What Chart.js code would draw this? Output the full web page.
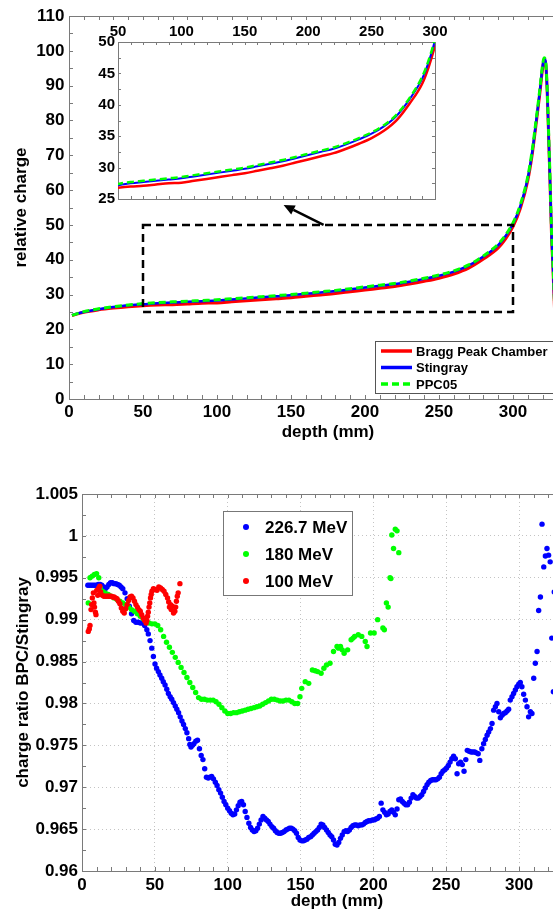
<!DOCTYPE html>
<html>
<head>
<meta charset="utf-8">
<script src="https://cdn.jsdelivr.net/npm/chart.js@4.4.1/dist/chart.umd.min.js"></script>
<style>
  html, body { margin: 0; padding: 0; background: #fff; overflow: hidden; width: 553px; height: 911px; position: relative; }
  canvas { position: absolute; }
  #top { left: 0; top: 0; width: 640px; height: 445px; }
  #inset { left: 80px; top: 10px; width: 370px; height: 200px; }
  #bottom { left: 0; top: 455px; width: 640px; height: 456px; }
</style>
</head>
<body>
<canvas id="top" width="640" height="445"></canvas>
<canvas id="inset" width="370" height="200"></canvas>
<canvas id="bottom" width="640" height="456"></canvas>
<script>
// ---- top panel: depth curves (mm / relative charge)
const depthTop = [2, 10, 20, 30, 40, 50, 60, 70, 80, 90,
  100, 110, 120, 130, 140, 150, 160, 170, 180, 190, 200,
  210, 220, 230, 240, 250, 260, 270, 280, 290,
  295, 300, 305, 310, 313, 316, 318, 320, 321, 322, 323, 324, 325, 326, 327, 328, 330, 333, 336, 340];
const bpcCharge = [24.0, 24.9, 25.6, 26.1, 26.5, 26.8, 27.0, 27.1, 27.3, 27.5,
  27.6, 27.9, 28.2, 28.5, 28.8, 29.1, 29.5, 29.9, 30.3, 30.8, 31.3,
  31.8, 32.3, 33.0, 33.8, 34.7, 35.9, 37.6, 40.2, 43.4,
  46.0, 49.5, 54.8, 62.8, 70.3, 80.3, 87.3, 95.0, 97.5, 96.5, 89.5, 76.5, 62.5, 47.5, 37.5, 26.5, 9.8, 1.9, 0.6, 0.2];
const stingrayCharge = [24.1, 25.0, 25.8, 26.4, 26.9, 27.2, 27.5, 27.7, 27.9, 28.1,
  28.3, 28.6, 28.9, 29.2, 29.5, 29.8, 30.2, 30.6, 31.0, 31.5, 32.0,
  32.5, 33.0, 33.7, 34.5, 35.4, 36.6, 38.3, 40.9, 44.2,
  46.8, 50.3, 55.5, 63.5, 71.0, 81.0, 88.0, 95.5, 97.8, 97.0, 90.0, 77.0, 63.0, 48.0, 38.0, 27.0, 10.0, 2.0, 0.6, 0.2];
const ppc05Charge = [24.0, 25.1, 25.9, 26.5, 27.0, 27.4, 27.7, 27.9, 28.1, 28.3,
  28.5, 28.8, 29.1, 29.4, 29.7, 30.0, 30.4, 30.8, 31.2, 31.7, 32.2,
  32.7, 33.2, 33.9, 34.7, 35.6, 36.8, 38.5, 41.1, 44.5,
  47.1, 50.6, 55.9, 63.9, 71.5, 81.5, 88.5, 96.0, 98.0, 97.2, 90.3, 77.5, 63.8, 49.0, 39.0, 28.0, 10.5, 2.2, 0.7, 0.2];
const depthTicks = [0, 50, 100, 150, 200, 250, 300, 350];
const chargeTicks = [0, 10, 20, 30, 40, 50, 60, 70, 80, 90, 100, 110];
const insetDepthTicks = [50, 100, 150, 200, 250, 300];
const insetChargeTicks = [25, 30, 35, 40, 45, 50];
// zoom rectangle and arrow, in data units
const zoomBoxDepth = [50, 300];
const zoomBoxCharge = [25, 50];
const arrowDepth = [172, 145];
const arrowCharge = [50, 55.7];

// ---- bottom panel: charge ratio BPC/Stingray
const depth226 = [4, 5.2, 6.4, 7.6, 8.8, 10, 11.2, 12.4, 13.6, 14.8,
  16, 17.2, 18.4, 19.6, 20.8, 22, 23.2, 24.4, 25.6, 26.8,
  28, 29.5, 31, 32.5, 34, 35.5, 37, 38.5, 40, 41.5,
  43, 44.5, 45.5, 46.7, 47.9, 49, 50.1, 51.2, 52.4, 53.5,
  54.7, 55.8, 57, 58.2, 59.3, 60.5, 61.6, 62.8, 64, 65.1,
  66.3, 67.4, 68.6, 69.7, 70.9, 72, 73.2, 74, 74.8, 75.8,
  76.8, 78.1, 79.3, 80.6, 81.8, 83, 84.2, 85.4, 86.6, 87.8,
  89, 90.2, 91.5, 92.7, 93.9, 95.1, 96.3, 97.5, 98.7, 100,
  101.2, 102.4, 103.6, 104.8, 106, 107.2, 108.4, 109.6, 110.8, 112,
  113.2, 114.5, 115.7, 116.9, 118.1, 119.3, 120.5, 121.7, 122.9, 124.2,
  125.4, 126.6, 127.8, 129, 130.3, 131.5, 132.7, 133.9, 135.1, 136.3,
  137.5, 138.7, 140, 141.2, 142.4, 143.6, 144.8, 146, 147.2, 148.4,
  149.6, 150.8, 152, 153.2, 154.4, 155.6, 156.9, 158.1, 159.3, 160.5,
  161.7, 162.9, 164.1, 165.3, 166.5, 167.8, 169, 170.2, 171.4, 172.6,
  173.8, 175, 176.2, 177.4, 178.6, 179.9, 181.1, 182.3, 183.5, 184.7,
  185.9, 187.1, 188.3, 189.5, 190.7, 192, 193.2, 194.4, 195.6, 196.8,
  198, 199.3, 200.5, 201.7, 202.9, 204.1, 205.3, 206.5, 207.7, 208.9,
  210.1, 211.3, 212.6, 213.8, 215, 216.2, 217.4, 218.6, 219.8, 221,
  222.2, 223.5, 224.7, 225.9, 227.1, 228.3, 229.5, 230.8, 232, 233.2,
  234.4, 235.6, 236.8, 238, 239.3, 240.5, 241.7, 242.9, 244.1, 245.3,
  246.5, 247.7, 249, 250.2, 251.4, 252.6, 253.8, 255, 256.2, 257.4,
  258.5, 259.8, 261, 262.2, 263.4, 264.4, 265.7, 267, 268.2, 269.5,
  270.7, 271.9, 273, 274.4, 275.6, 276.8, 278, 279.1, 280.3, 281.4,
  282.5, 283.7, 284.8, 286, 287.1, 288.3, 289.4, 290.5, 291.7, 292.8,
  293.9, 295.1, 296.2, 297.4, 298.5, 299.7, 300.8, 301.9, 303.1, 304.3,
  305.4, 306.5, 307.7, 308.8, 310, 311.1, 312.3, 313.4, 314.6, 315.7,
  316.9, 318, 319.1, 320.2, 321.3, 322.4, 323.5, 324.1];
const ratio226 = [0.9941, 0.9941, 0.9941, 0.9941, 0.9941, 0.9941, 0.9942, 0.9942, 0.9941, 0.9939,
  0.9937, 0.9939, 0.9942, 0.9944, 0.9944, 0.9943, 0.9943, 0.9942, 0.9941, 0.9939,
  0.9937, 0.9932, 0.9925, 0.9916, 0.9907, 0.9899, 0.9897, 0.9897, 0.9896, 0.9896,
  0.9893, 0.9888, 0.9883, 0.9875, 0.9866, 0.9856, 0.9847, 0.9842, 0.9838, 0.9834,
  0.9830, 0.9826, 0.9822, 0.9817, 0.9812, 0.9808, 0.9805, 0.9801, 0.9797, 0.9793,
  0.9789, 0.9784, 0.9779, 0.9775, 0.9770, 0.9765, 0.9758, 0.9751, 0.9748, 0.9750,
  0.9752, 0.9755, 0.9756, 0.9746, 0.9738, 0.9733, 0.9722, 0.9712, 0.9711, 0.9712,
  0.9713, 0.9710, 0.9706, 0.9702, 0.9697, 0.9693, 0.9688, 0.9683, 0.9679, 0.9675,
  0.9672, 0.9669, 0.9667, 0.9668, 0.9673, 0.9678, 0.9682, 0.9683, 0.9679, 0.9671,
  0.9664, 0.9657, 0.9652, 0.9649, 0.9647, 0.9648, 0.9651, 0.9656, 0.9661, 0.9665,
  0.9663, 0.9661, 0.9659, 0.9656, 0.9653, 0.9651, 0.9648, 0.9646, 0.9645, 0.9645,
  0.9646, 0.9647, 0.9649, 0.9650, 0.9651, 0.9651, 0.9650, 0.9648, 0.9645, 0.9640,
  0.9637, 0.9636, 0.9636, 0.9637, 0.9638, 0.9640, 0.9641, 0.9643, 0.9645, 0.9647,
  0.9649, 0.9652, 0.9656, 0.9655, 0.9652, 0.9649, 0.9646, 0.9643, 0.9641, 0.9637,
  0.9632, 0.9631, 0.9634, 0.9639, 0.9643, 0.9647, 0.9648, 0.9647, 0.9649, 0.9652,
  0.9654, 0.9655, 0.9655, 0.9654, 0.9655, 0.9655, 0.9656, 0.9658, 0.9659, 0.9660,
  0.9660, 0.9661, 0.9661, 0.9662, 0.9663, 0.9665, 0.9681, 0.9673, 0.9670, 0.9667,
  0.9668, 0.9671, 0.9673, 0.9670, 0.9667, 0.9674, 0.9685, 0.9686, 0.9683, 0.9681,
  0.9679, 0.9679, 0.9682, 0.9687, 0.9691, 0.9689, 0.9687, 0.9687, 0.9689, 0.9691,
  0.9695, 0.9699, 0.9703, 0.9706, 0.9708, 0.9709, 0.9709, 0.9709, 0.9710, 0.9712,
  0.9716, 0.9719, 0.9721, 0.9723, 0.9726, 0.9730, 0.9734, 0.9737, 0.9734, 0.9716,
  0.9728, 0.9730, 0.9727, 0.9719, 0.9733, 0.9744, 0.9743, 0.9742, 0.9742, 0.9742,
  0.9741, 0.9740, 0.9732, 0.9746, 0.9752, 0.9757, 0.9762, 0.9766, 0.9770, 0.9776,
  0.9792, 0.9796, 0.9800, 0.9790, 0.9783, 0.9786, 0.9788, 0.9789, 0.9791, 0.9793,
  0.9804, 0.9808, 0.9812, 0.9816, 0.9820, 0.9823, 0.9825, 0.9820, 0.9811, 0.9804,
  0.9796, 0.9784, 0.9790, 0.9788, 0.9830, 0.9848, 0.9862, 0.9911, 0.9927, 1.0014,
  0.9963, 0.9976, 0.9985, 0.9977, 0.9969, 0.9878, 0.9814, 0.9933];

const depth180 = [4.3, 5.5, 7, 8.5, 10, 11.5, 12.5, 14, 16, 18,
  20, 22, 24, 26, 28, 30, 32, 34, 36, 38,
  40, 42, 44, 46, 48, 50, 52, 54, 56, 58,
  60, 62, 64, 66, 68, 70, 72, 74, 76, 78,
  80, 82, 84, 86, 88, 90, 92, 94, 96, 98,
  100, 102, 104, 106, 108, 110, 112, 114, 116, 118,
  120, 122, 124, 126, 128, 130, 132, 134, 136, 138,
  140, 142, 144, 146, 148, 149.6, 150.8, 153.2, 155.6, 158.1,
  160, 161.7, 164.1, 166, 167.8, 170.2, 172.6, 175, 176, 177.4,
  178.6, 179.9, 182.3, 184.7, 186, 187.1, 189.6, 192, 194.4, 195.6,
  198, 200.5, 202.9, 206.5, 207.5, 208.9, 210.1, 211.4, 212, 212.6,
  213.8, 215, 216.2, 217.4];
const ratio180 = [0.9920, 0.9950, 0.9952, 0.9954, 0.9955, 0.9950, 0.9938, 0.9934, 0.9932, 0.9930,
  0.9928, 0.9926, 0.9924, 0.9922, 0.9920, 0.9918, 0.9915, 0.9912, 0.9910, 0.9907,
  0.9904, 0.9901, 0.9898, 0.9896, 0.9895, 0.9895, 0.9893, 0.9888, 0.9880, 0.9873,
  0.9867, 0.9861, 0.9855, 0.9849, 0.9843, 0.9837, 0.9831, 0.9825, 0.9819, 0.9813,
  0.9807, 0.9805, 0.9805, 0.9804, 0.9804, 0.9804, 0.9802, 0.9799, 0.9795, 0.9791,
  0.9788, 0.9788, 0.9789, 0.9789, 0.9790, 0.9791, 0.9792, 0.9793, 0.9794, 0.9795,
  0.9796, 0.9797, 0.9799, 0.9801, 0.9803, 0.9805, 0.9805, 0.9804, 0.9803, 0.9803,
  0.9804, 0.9804, 0.9802, 0.9800, 0.9800, 0.9808, 0.9818, 0.9826, 0.9824, 0.9840,
  0.9839, 0.9838, 0.9836, 0.9842, 0.9846, 0.9848, 0.9862, 0.9868, 0.9866, 0.9868,
  0.9864, 0.9860, 0.9864, 0.9876, 0.9878, 0.9880, 0.9882, 0.9880, 0.9874, 0.9868,
  0.9884, 0.9884, 0.9900, 0.9890, 0.9888, 0.9920, 0.9915, 0.9950, 0.9949, 1.0001,
  0.9985, 1.0008, 1.0006, 0.9980];

const depth100 = [4.3, 5, 5.5, 6.2, 6.6, 7.1, 7.8, 8.2, 8.6, 9.2,
  9.6, 10.1, 10.8, 11.5, 12.2, 12.8, 14, 15, 16, 17,
  18, 19, 20, 21, 22, 23, 24, 25, 26, 27,
  28, 29, 30, 31, 32, 33, 34, 35, 36, 37,
  38, 39, 40, 41, 42, 43, 44, 44.5, 45, 45.5,
  46, 46.5, 47, 47.5, 48, 49, 50.3, 51.5, 52.7, 53.9,
  55.1, 56.3, 57.5, 58.7, 59.5, 60, 60.8, 61.2, 62, 62.8,
  63.7, 64.3, 64.8, 65.4, 66, 67.2];
const ratio100 = [0.9886, 0.9889, 0.9893, 0.9912, 0.9918, 0.9926, 0.9932, 0.9920, 0.9915, 0.9909,
  0.9906, 0.9935, 0.9929, 0.9938, 0.9940, 0.9933, 0.9929, 0.9928, 0.9928, 0.9928,
  0.9928, 0.9928, 0.9928, 0.9927, 0.9927, 0.9926, 0.9925, 0.9922, 0.9919, 0.9914,
  0.9910, 0.9908, 0.9913, 0.9918, 0.9923, 0.9927, 0.9928, 0.9926, 0.9922, 0.9918,
  0.9915, 0.9912, 0.9910, 0.9906, 0.9902, 0.9899, 0.9896, 0.9899, 0.9904, 0.9909,
  0.9915, 0.9920, 0.9926, 0.9930, 0.9934, 0.9937, 0.9936, 0.9935, 0.9939, 0.9938,
  0.9936, 0.9934, 0.9930, 0.9926, 0.9921, 0.9915, 0.9918, 0.9912, 0.9916, 0.9908,
  0.9910, 0.9915, 0.9922, 0.9928, 0.9932, 0.9943];
const depthTicksBottom = [0, 50, 100, 150, 200, 250, 300, 350];
const ratioTicks = [0.96, 0.965, 0.97, 0.975, 0.98, 0.985, 0.99, 0.995, 1, 1.005];

Chart.defaults.font.family = '"Liberation Sans", Arial, sans-serif';
Chart.defaults.font.weight = 'bold';
Chart.defaults.color = '#000';

const AXIS_GREY = '#7a7a7a';
const pairs = (xs, ys) => xs.map((v, i) => ({ x: v, y: ys[i] }));
const fixTicks = list => scale => { scale.ticks = list.map(v => ({ value: v })); };

// inward MATLAB-style ticks on all four sides plus the box
const boxTicks = {
  id: 'boxTicks',
  beforeDraw(chart, args, o) {
    if (!o.fill) return;
    const a = chart.chartArea;
    chart.ctx.save();
    chart.ctx.fillStyle = o.fill;
    chart.ctx.fillRect(a.left, a.top, a.width, a.height);
    chart.ctx.restore();
  },
  beforeDatasetsDraw(chart, args, o) {
    const { ctx, chartArea: a, scales: { x, y } } = chart;
    ctx.save();
    ctx.strokeStyle = o.color;
    ctx.lineWidth = 1;
    ctx.beginPath();
    for (let v = x.min; v <= x.max + 1e-9; v += o.xStep) {
      const px = Math.round(x.getPixelForValue(v)) + 0.5;
      ctx.moveTo(px, a.bottom); ctx.lineTo(px, a.bottom - o.len);
      ctx.moveTo(px, a.top); ctx.lineTo(px, a.top + o.len);
    }
    for (let v = y.min; v <= y.max + 1e-9; v += o.yStep) {
      const py = Math.round(y.getPixelForValue(v)) + 0.5;
      ctx.moveTo(a.left, py); ctx.lineTo(a.left + o.len, py);
      ctx.moveTo(a.right, py); ctx.lineTo(a.right - o.len, py);
    }
    ctx.stroke();
    ctx.strokeRect(Math.round(a.left) + 0.5, Math.round(a.top) + 0.5, Math.round(a.width), Math.round(a.height));
    ctx.restore();
  }
};

// boxed legend placed inside the axes
const boxLegend = {
  id: 'boxLegend',
  afterDraw(chart, args, o) {
    if (!o.order) return;
    const ctx = chart.ctx;
    ctx.save();
    ctx.fillStyle = '#fff';
    ctx.fillRect(o.left, o.top, o.width, o.height);
    ctx.strokeStyle = o.border;
    ctx.lineWidth = 1;
    ctx.strokeRect(o.left + 0.5, o.top + 0.5, o.width, o.height);
    ctx.font = o.font;
    ctx.textBaseline = 'middle';
    o.order.forEach((di, k) => {
      const ds = chart.data.datasets[di];
      const cy = o.top + o.firstRow + k * o.rowGap;
      if (o.marker === 'line') {
        ctx.strokeStyle = ds.borderColor;
        ctx.lineWidth = o.lineWidth;
        ctx.setLineDash(ds.borderDash || []);
        ctx.beginPath();
        ctx.moveTo(o.left + o.markX, cy);
        ctx.lineTo(o.left + o.markX + o.markLen, cy);
        ctx.stroke();
        ctx.setLineDash([]);
      } else {
        ctx.fillStyle = ds.backgroundColor;
        ctx.beginPath();
        ctx.arc(o.left + o.markX, cy, o.dotR, 0, Math.PI * 2);
        ctx.fill();
      }
      ctx.fillStyle = '#000';
      ctx.fillText(ds.label, o.left + o.textX, cy + 1);
    });
    ctx.restore();
  }
};

// dashed zoom rectangle and arrow pointing to the inset
const zoomMark = {
  id: 'zoomMark',
  afterDatasetsDraw(chart, args, o) {
    if (!o.show) return;
    const { ctx, scales: { x, y } } = chart;
    const x0 = x.getPixelForValue(zoomBoxDepth[0]), x1 = x.getPixelForValue(zoomBoxDepth[1]);
    const y0 = y.getPixelForValue(zoomBoxCharge[0]), y1 = y.getPixelForValue(zoomBoxCharge[1]);
    ctx.save();
    ctx.strokeStyle = '#000';
    ctx.fillStyle = '#000';
    ctx.lineWidth = 2.5;
    ctx.setLineDash([8, 5]);
    ctx.strokeRect(x0, y1, x1 - x0, y0 - y1);
    ctx.setLineDash([]);
    const ax = x.getPixelForValue(arrowDepth[0]), ay = y.getPixelForValue(arrowCharge[0]);
    const bx = x.getPixelForValue(arrowDepth[1]), by = y.getPixelForValue(arrowCharge[1]);
    const ang = Math.atan2(by - ay, bx - ax);
    const hl = 11, hw = 5;
    const hx = bx - hl * Math.cos(ang), hy = by - hl * Math.sin(ang);
    ctx.lineWidth = 2.5;
    ctx.beginPath(); ctx.moveTo(ax, ay); ctx.lineTo(hx, hy); ctx.stroke();
    ctx.beginPath();
    ctx.moveTo(bx, by);
    ctx.lineTo(hx + hw * Math.sin(ang), hy - hw * Math.cos(ang));
    ctx.lineTo(hx - hw * Math.sin(ang), hy + hw * Math.cos(ang));
    ctx.closePath();
    ctx.fill();
    ctx.restore();
  }
};

function curve(label, values, color, width, dash, order) {
  return {
    label, order,
    data: pairs(depthTop, values),
    borderColor: color, borderWidth: width, borderDash: dash,
    pointRadius: 0, fill: false, cubicInterpolationMode: 'monotone'
  };
}

const tickFont = size => ({ size, weight: 'bold', lineHeight: 1 });

// top panel
new Chart(document.getElementById('top'), {
  type: 'line',
  data: {
    datasets: [
      curve('Bragg Peak Chamber', bpcCharge, '#ff0000', 3, [], 2),
      curve('Stingray', stingrayCharge, '#0000ff', 2.5, [], 1),
      curve('PPC05', ppc05Charge, '#00ff00', 3, [7, 4], 0)
    ]
  },
  options: {
    responsive: false, animation: false, devicePixelRatio: 1,
    layout: { autoPadding: false, padding: { left: 0, top: 16, right: 53, bottom: 0 } },
    plugins: {
      legend: { display: false }, tooltip: { enabled: false },
      boxTicks: { xStep: 10, yStep: 5, len: 4, color: AXIS_GREY },
      boxLegend: {
        order: [0, 1, 2], marker: 'line', left: 375, top: 341, width: 220, height: 52,
        firstRow: 10, rowGap: 16.5, markX: 6, markLen: 31, textX: 41, lineWidth: 3.5,
        font: 'bold 13px "Liberation Sans", Arial, sans-serif', border: '#555'
      },
      zoomMark: { show: true }
    },
    scales: {
      x: {
        type: 'linear', min: 0, max: 350,
        afterBuildTicks: fixTicks(depthTicks),
        afterFit: s => { s.height = 46; },
        grid: { display: false, drawTicks: false }, border: { display: false },
        ticks: { padding: 5, font: tickFont(17), maxRotation: 0 },
        title: { display: true, text: 'depth (mm)', font: tickFont(17), padding: { top: 0, bottom: 4.5 } }
      },
      y: {
        min: 0, max: 110,
        afterBuildTicks: fixTicks(chargeTicks),
        afterFit: s => { s.width = 69; },
        grid: { display: false, drawTicks: false }, border: { display: false },
        ticks: { padding: 4.5, font: tickFont(17) },
        title: { display: true, text: 'relative charge', font: tickFont(17), padding: { top: 12.5, bottom: 0 } }
      }
    }
  },
  plugins: [boxTicks, boxLegend, zoomMark]
});

// inset: zoom on 50-300 mm
new Chart(document.getElementById('inset'), {
  type: 'line',
  data: {
    datasets: [
      curve('Bragg Peak Chamber', bpcCharge, '#ff0000', 2.5, [], 2),
      curve('Stingray', stingrayCharge, '#0000ff', 2, [], 1),
      curve('PPC05', ppc05Charge, '#00ff00', 2.5, [7, 4], 0)
    ]
  },
  options: {
    responsive: false, animation: false, devicePixelRatio: 1,
    layout: { autoPadding: false, padding: { left: 0, top: 0, right: 14, bottom: 11 } },
    plugins: {
      legend: { display: false }, tooltip: { enabled: false },
      boxTicks: { xStep: 10, yStep: 2.5, len: 3, color: AXIS_GREY, fill: '#fff' }
    },
    scales: {
      x: {
        type: 'linear', position: 'top', min: 50, max: 300,
        afterBuildTicks: fixTicks(insetDepthTicks),
        afterFit: s => { s.height = 32; },
        grid: { display: false, drawTicks: false }, border: { display: false },
        ticks: { padding: 2.5, font: tickFont(15), maxRotation: 0 }
      },
      y: {
        min: 25, max: 50,
        afterBuildTicks: fixTicks(insetChargeTicks),
        afterFit: s => { s.width = 38; },
        grid: { display: false, drawTicks: false }, border: { display: false },
        ticks: { padding: 3, font: tickFont(15) }
      }
    }
  },
  plugins: [boxTicks]
});

// bottom panel
function dots(label, xs, ys, color, order) {
  return {
    label, order, data: pairs(xs, ys),
    backgroundColor: color, borderWidth: 0, pointRadius: 2.7, pointStyle: 'circle'
  };
}

new Chart(document.getElementById('bottom'), {
  type: 'scatter',
  data: {
    datasets: [
      dots('226.7 MeV', depth226, ratio226, '#0000ff', 2),
      dots('180 MeV', depth180, ratio180, '#00ff00', 1),
      dots('100 MeV', depth100, ratio100, '#ff0000', 0)
    ]
  },
  options: {
    responsive: false, animation: false, devicePixelRatio: 1,
    layout: { autoPadding: false, padding: { left: 0, top: 39, right: 48, bottom: 0 } },
    plugins: {
      legend: { display: false }, tooltip: { enabled: false },
      boxTicks: { xStep: 10, yStep: 0.0025, len: 4, color: AXIS_GREY },
      boxLegend: {
        order: [0, 1, 2], marker: 'dot', left: 223, top: 56, width: 129, height: 84,
        firstRow: 16, rowGap: 27, markX: 23, dotR: 3, textX: 42,
        font: 'bold 17px "Liberation Sans", Arial, sans-serif', border: '#777'
      }
    },
    scales: {
      x: {
        type: 'linear', min: 0, max: 350,
        afterBuildTicks: fixTicks(depthTicksBottom),
        afterFit: s => { s.height = 40; },
        grid: { color: '#c4c4c4', lineWidth: 1, drawTicks: false },
        border: { display: false, dash: [1, 3] },
        ticks: { padding: 5.5, font: tickFont(17), maxRotation: 0 },
        title: { display: true, text: 'depth (mm)', font: tickFont(17), padding: { top: 0, bottom: 1.5 } }
      },
      y: {
        min: 0.96, max: 1.005,
        afterBuildTicks: fixTicks(ratioTicks),
        afterFit: s => { s.width = 82; },
        grid: { color: '#c4c4c4', lineWidth: 1, drawTicks: false },
        border: { display: false, dash: [1, 3] },
        ticks: { padding: 4, font: tickFont(17), callback: v => String(+v.toFixed(3)) },
        title: { display: true, text: 'charge ratio BPC/Stingray', font: tickFont(17), padding: { top: 14.5, bottom: 0 } }
      }
    }
  },
  plugins: [boxTicks, boxLegend]
});
</script>
</body>
</html>
